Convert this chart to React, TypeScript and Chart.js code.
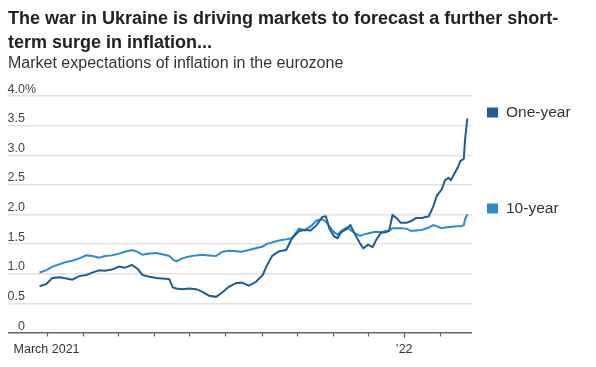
import React, { useEffect, useRef } from "react";
import { Chart, registerables } from "chart.js";

Chart.register(...registerables);

// ---------- data ----------
const dates = [
  "2021-02-23", "2021-03-01", "2021-03-06", "2021-03-12", "2021-03-18", "2021-03-23", "2021-03-29",
  "2021-04-04", "2021-04-09", "2021-04-15", "2021-04-20", "2021-04-26", "2021-05-02", "2021-05-07",
  "2021-05-13", "2021-05-18", "2021-05-22", "2021-05-28", "2021-06-03", "2021-06-08", "2021-06-14",
  "2021-06-17", "2021-06-20", "2021-06-25", "2021-07-01", "2021-07-07", "2021-07-12", "2021-07-18",
  "2021-07-24", "2021-07-29", "2021-08-04", "2021-08-10", "2021-08-15", "2021-08-21", "2021-08-27",
  "2021-09-02", "2021-09-05", "2021-09-10", "2021-09-16", "2021-09-22", "2021-09-27", "2021-10-03",
  "2021-10-08", "2021-10-13", "2021-10-18", "2021-10-23", "2021-10-26", "2021-10-29", "2021-11-02",
  "2021-11-05", "2021-11-08", "2021-11-13", "2021-11-16", "2021-11-20", "2021-11-24", "2021-11-27",
  "2021-12-01", "2021-12-05", "2021-12-08", "2021-12-12", "2021-12-16", "2021-12-19", "2021-12-22",
  "2021-12-26", "2021-12-29", "2022-01-03", "2022-01-07", "2022-01-11", "2022-01-16", "2022-01-22",
  "2022-01-26", "2022-01-29", "2022-02-02", "2022-02-05", "2022-02-08", "2022-02-10", "2022-02-14",
  "2022-02-16", "2022-02-18", "2022-02-21", "2022-02-22", "2022-02-24",
];

const oneYear = [
  0.79, 0.83, 0.93, 0.94, 0.92, 0.90, 0.96,
  0.98, 1.02, 1.06, 1.05, 1.07, 1.12, 1.10,
  1.15, 1.08, 0.98, 0.95, 0.93, 0.92, 0.91,
  0.77, 0.75, 0.74, 0.75, 0.74, 0.70, 0.63,
  0.61, 0.68, 0.78, 0.84, 0.85, 0.80, 0.86,
  0.98, 1.12, 1.30, 1.38, 1.40, 1.60, 1.72,
  1.74, 1.73, 1.82, 1.96, 1.97, 1.76, 1.63,
  1.60, 1.70, 1.76, 1.82, 1.66, 1.52, 1.43,
  1.49, 1.45, 1.57, 1.69, 1.70, 1.72, 1.99,
  1.93, 1.86, 1.86, 1.89, 1.94, 1.94, 1.97,
  2.14, 2.32, 2.42, 2.58, 2.62, 2.58, 2.73,
  2.80, 2.90, 2.94, 3.25, 3.62,
];

const tenYear = [
  1.02, 1.06, 1.12, 1.16, 1.20, 1.22, 1.26,
  1.31, 1.30, 1.27, 1.30, 1.31, 1.34, 1.37,
  1.40, 1.37, 1.32, 1.34, 1.35, 1.33, 1.30,
  1.24, 1.21, 1.26, 1.29, 1.31, 1.32, 1.31,
  1.30, 1.37, 1.39, 1.38, 1.37, 1.40, 1.43,
  1.46, 1.50, 1.53, 1.56, 1.58, 1.60, 1.76,
  1.74, 1.80, 1.90, 1.92, 1.88, 1.80, 1.70,
  1.66, 1.72, 1.78, 1.74, 1.68, 1.64, 1.66,
  1.68, 1.70, 1.71, 1.70, 1.72, 1.73, 1.77,
  1.77, 1.77, 1.76, 1.72, 1.73, 1.74, 1.78,
  1.82, 1.80, 1.77, 1.78, 1.79, 1.79, 1.80,
  1.80, 1.80, 1.82, 1.92, 2.00,
];

const seriesNames = ["One-year", "10-year"];
const seriesColors = ["#1d5d94", "#2b8bd0"];

const yTickValues = [0, 0.5, 1, 1.5, 2, 2.5, 3, 3.5, 4];
const yTickLabels = ["0", "0.5", "1.0", "1.5", "2.0", "2.5", "3.0", "3.5", "4.0"];

const xTickDates = [
  "2021-03-01", "2021-04-01", "2021-05-01", "2021-06-01", "2021-07-01", "2021-08-01",
  "2021-09-01", "2021-10-01", "2021-11-01", "2021-12-01", "2022-01-01", "2022-02-01",
];
const xTickLabels: Record<string, string> = { "2021-03-01": "March 2021", "2022-01-01": "\u201922" };
const majorTick = "2022-01-01";

const xRange = ["2021-01-27", "2022-02-28"];

const titleLines = [
  "The war in Ukraine is driving markets to forecast a further short-",
  "term surge in inflation...",
];
const subtitle = "Market expectations of inflation in the eurozone";

// ---------- helpers ----------
const BASE = Date.UTC(2021, 2, 1);
const toDay = (d: string) => (Date.parse(d + "T00:00:00Z") - BASE) / 86400000;

const SANS = '"Liberation Sans", Arial, sans-serif';

const textPlugin = {
  id: "wsjText",
  afterDraw(chart: any) {
    const { ctx, chartArea } = chart;
    const x = chart.scales.x;
    const y = chart.scales.y;
    ctx.save();
    // title
    ctx.textAlign = "left";
    ctx.textBaseline = "alphabetic";
    ctx.fillStyle = "#222";
    ctx.font = `bold 18px ${SANS}`;
    titleLines.forEach((t, i) => ctx.fillText(t, 8, 24 + i * 24));
    ctx.fillStyle = "#333";
    ctx.font = `16px ${SANS}`;
    ctx.fillText(subtitle, 8, 68);

    // y labels
    ctx.font = `12.5px ${SANS}`;
    ctx.fillStyle = "#444";
    yTickValues.forEach((v, i) => {
      const py = y.getPixelForValue(v) - 3.5;
      ctx.textAlign = "right";
      ctx.fillText(yTickLabels[i], 25, py);
      if (i === yTickValues.length - 1) {
        ctx.textAlign = "left";
        ctx.fillText("%", 25, py);
      }
    });

    // x ticks
    ctx.strokeStyle = "#666";
    ctx.lineWidth = 1.2;
    xTickDates.forEach((d) => {
      const px = Math.round(x.getPixelForValue(toDay(d))) + 0.5;
      ctx.beginPath();
      ctx.moveTo(px, chartArea.bottom);
      ctx.lineTo(px, chartArea.bottom + (d === majorTick ? 5 : 3.5));
      ctx.stroke();
    });
    ctx.fillStyle = "#333";
    ctx.textAlign = "center";
    xTickDates.forEach((d) => {
      const lab = xTickLabels[d];
      if (!lab) return;
      ctx.fillText(lab, x.getPixelForValue(toDay(d)), 353);
    });

    // legend at series ends
    ctx.font = `15.5px ${SANS}`;
    ctx.textAlign = "left";
    ctx.textBaseline = "middle";
    chart.data.datasets.forEach((ds: any, i: number) => {
      const last = ds.data[ds.data.length - 1];
      const py = y.getPixelForValue(last.y) - 6;
      ctx.fillStyle = seriesColors[i];
      ctx.fillRect(chartArea.right + 15, py - 5, 11, 10);
      ctx.fillStyle = "#333";
      ctx.fillText(seriesNames[i], chartArea.right + 34, py);
    });
    ctx.restore();
  },
};

export default function App() {
  const ref = useRef<HTMLCanvasElement | null>(null);
  useEffect(() => {
    if (!ref.current) return;
    const mk = (vals: number[]) => vals.map((v, i) => ({ x: toDay(dates[i]), y: v }));
    const chart = new Chart(ref.current, {
      type: "line",
      data: {
        datasets: [
          { label: seriesNames[0], data: mk(oneYear), borderColor: seriesColors[0], borderWidth: 2, pointRadius: 0, tension: 0 },
          { label: seriesNames[1], data: mk(tenYear), borderColor: seriesColors[1], borderWidth: 2, pointRadius: 0, tension: 0 },
        ],
      },
      options: {
        animation: false,
        responsive: false,
        maintainAspectRatio: false,
        layout: { padding: { left: 8, right: 124, top: 96, bottom: 34 } },
        plugins: { legend: { display: false }, tooltip: { enabled: false }, title: { display: false } },
        scales: {
          x: { type: "linear", min: toDay(xRange[0]), max: toDay(xRange[1]), display: false },
          y: {
            min: 0,
            max: 4,
            ticks: { stepSize: 0.5, display: false },
            grid: {
              drawTicks: false,
              color: (c: any) => (c.tick && c.tick.value === 0 ? "#666" : "#e2e2e2"),
              lineWidth: (c: any) => (c.tick && c.tick.value === 0 ? 1.6 : 1.4),
            },
            border: { display: false },
          },
        },
      },
      plugins: [textPlugin],
    });
    return () => chart.destroy();
  }, []);
  return (
    <div style={{ position: "fixed", left: 0, top: 0, width: 596, height: 367, background: "#fff" }}>
      <canvas ref={ref} width={596} height={367} />
    </div>
  );
}
